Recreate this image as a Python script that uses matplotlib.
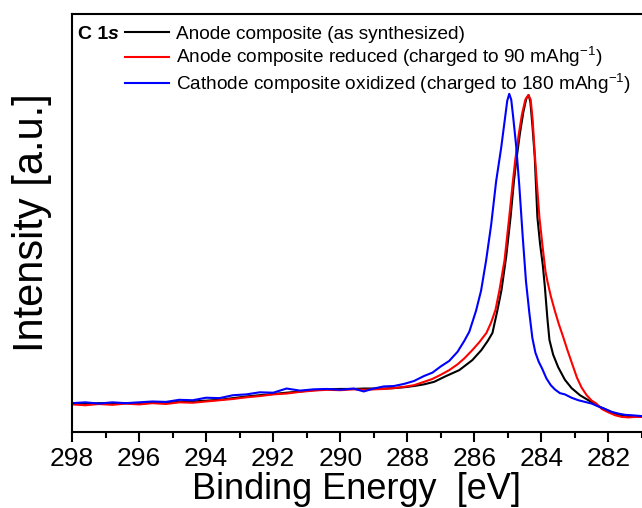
import matplotlib
matplotlib.use('Agg')
import matplotlib.pyplot as plt
from matplotlib.ticker import MultipleLocator

plt.rcParams['font.family'] = ['Liberation Sans', 'DejaVu Sans']
plt.rcParams['mathtext.fontset'] = 'custom'
plt.rcParams['mathtext.rm'] = 'Liberation Sans'
plt.rcParams['mathtext.it'] = 'Liberation Sans:italic'
plt.rcParams['mathtext.bf'] = 'Liberation Sans:bold'

# binding energy (eV) / normalised intensity
e_black = [298.0, 297.6, 297.2, 296.8, 296.4, 296.0, 295.6, 295.2, 294.8, 294.4, 294.0,
           293.6, 293.2, 292.8, 292.4, 292.0, 291.6, 291.2, 290.8, 290.4, 290.0, 289.6,
           289.3, 289.0, 288.7, 288.4, 288.1, 287.8, 287.5, 287.2, 286.84, 286.45, 286.06,
           285.79, 285.6, 285.46, 285.31, 285.19, 285.05, 284.92, 284.82, 284.74, 284.64,
           284.54, 284.45, 284.38, 284.33, 284.27, 284.2, 284.12, 284.04, 283.96, 283.9,
           283.82, 283.76, 283.65, 283.5, 283.3, 283.1, 282.85, 282.6, 282.3, 282.06,
           281.8, 281.6, 281.3, 281.0]
i_black = [0.068, 0.067, 0.069, 0.068, 0.069, 0.068, 0.070, 0.070, 0.072, 0.073, 0.075,
           0.077, 0.081, 0.085, 0.088, 0.091, 0.094, 0.097, 0.100, 0.102, 0.103, 0.103,
           0.104, 0.104, 0.104, 0.105, 0.107, 0.110, 0.114, 0.120, 0.134, 0.148, 0.172,
           0.196, 0.218, 0.237, 0.292, 0.340, 0.420, 0.514, 0.600, 0.655, 0.715,
           0.765, 0.798, 0.806, 0.790, 0.735, 0.660, 0.514, 0.450, 0.400, 0.350,
           0.270, 0.220, 0.185, 0.155, 0.125, 0.105, 0.088, 0.076, 0.062, 0.053,
           0.044, 0.040, 0.037, 0.036]

e_red = [298.0, 297.6, 297.2, 296.8, 296.4, 296.0, 295.6, 295.2, 294.8, 294.4, 294.0,
         293.6, 293.2, 292.8, 292.4, 292.0, 291.6, 291.2, 290.8, 290.4, 290.0, 289.6,
         289.3, 289.0, 288.7, 288.4, 288.1, 287.8, 287.5, 287.25, 287.0, 286.75, 286.5,
         286.3, 286.06, 285.85, 285.64, 285.5, 285.37, 285.25, 285.1, 284.96, 284.85,
         284.78, 284.68, 284.58, 284.48, 284.39, 284.32, 284.26, 284.21, 284.14, 284.06,
         283.96, 283.88, 283.82, 283.72, 283.6, 283.48, 283.37, 283.22, 283.07, 282.94,
         282.8, 282.65, 282.5, 282.36, 282.2, 282.0, 281.8, 281.6, 281.4, 281.2, 281.0]
i_red = [0.066, 0.064, 0.067, 0.065, 0.068, 0.066, 0.069, 0.067, 0.071, 0.070, 0.073,
         0.076, 0.079, 0.083, 0.086, 0.090, 0.092, 0.096, 0.099, 0.101, 0.100, 0.102,
         0.101, 0.102, 0.103, 0.105, 0.108, 0.112, 0.120, 0.127, 0.137, 0.148, 0.162,
         0.176, 0.196, 0.215, 0.237, 0.262, 0.292, 0.340, 0.411, 0.514, 0.600,
         0.651, 0.710, 0.760, 0.795, 0.806, 0.795, 0.745, 0.680, 0.600, 0.514,
         0.440, 0.385, 0.360, 0.325, 0.290, 0.258, 0.232, 0.195, 0.160, 0.130,
         0.106, 0.088, 0.075, 0.068, 0.055, 0.047, 0.040, 0.036, 0.035, 0.036, 0.036]

e_blue = [298.0, 297.6, 297.2, 296.8, 296.4, 296.0, 295.6, 295.2, 294.8, 294.4, 294.0,
          293.6, 293.2, 292.8, 292.4, 292.0, 291.6, 291.2, 290.8, 290.4, 290.0, 289.6,
          289.3, 289.0, 288.7, 288.4, 288.1, 287.8, 287.5, 287.25, 287.0, 286.75, 286.5,
          286.3, 286.15, 285.95, 285.8, 285.65, 285.5, 285.35, 285.2, 285.1, 285.02,
          284.96, 284.9, 284.84, 284.75, 284.66, 284.56, 284.46, 284.36, 284.27, 284.18,
          284.08, 283.98, 283.85, 283.72, 283.6, 283.45, 283.3, 283.1, 282.9, 282.7,
          282.5, 282.3, 282.1, 281.9, 281.7, 281.5, 281.3, 281.0]
i_blue = [0.069, 0.071, 0.068, 0.071, 0.069, 0.071, 0.073, 0.072, 0.077, 0.076, 0.082,
          0.081, 0.088, 0.090, 0.095, 0.094, 0.104, 0.099, 0.102, 0.103, 0.101, 0.104,
          0.097, 0.104, 0.109, 0.110, 0.115, 0.122, 0.134, 0.142, 0.157, 0.170, 0.192,
          0.218, 0.240, 0.290, 0.338, 0.410, 0.495, 0.600, 0.680, 0.742, 0.792,
          0.809, 0.795, 0.752, 0.682, 0.590, 0.470, 0.360, 0.285, 0.225, 0.190,
          0.168, 0.152, 0.128, 0.112, 0.102, 0.093, 0.090, 0.082, 0.076, 0.072,
          0.068, 0.061, 0.055, 0.048, 0.044, 0.041, 0.040, 0.038]

labels = ['Anode composite (as synthesized)',
          'Anode composite reduced (charged to 90 mAhg$^{-1}$)',
          'Cathode composite oxidized (charged to 180 mAhg$^{-1}$)']
colors = ['black', 'red', 'blue']

fig = plt.figure(figsize=(6.42, 5.08), dpi=100)
ax = fig.add_axes([72 / 642, 76 / 508, 570 / 642, 418 / 508])

for e, i, lab, c in zip([e_black, e_red, e_blue], [i_black, i_red, i_blue], labels, colors):
    ax.plot(e, i, color=c, lw=1.5, label=lab)

ax.set_xlim(298, 281)
ax.set_ylim(0, 1)
ax.xaxis.set_major_locator(MultipleLocator(2))
ax.xaxis.set_minor_locator(MultipleLocator(1))
ax.tick_params(axis='x', which='major', direction='out', length=7, width=1.5, labelsize=19)
ax.tick_params(axis='x', which='minor', direction='out', length=4, width=1.5)
ax.set_yticks([])
for s in ax.spines.values():
    s.set_linewidth(1.5)
ax.spines['right'].set_visible(False)

ax.set_xlabel('Binding Energy  [eV]', fontsize=26)
ax.xaxis.set_label_coords(0.5, -0.095)
ax.set_ylabel('Intensity [a.u.]', fontsize=30)
ax.yaxis.set_label_coords(-0.035, 0.5)

leg = ax.legend(loc='upper left', bbox_to_anchor=(0.08, 0.99), borderaxespad=0,
                frameon=False, fontsize=13.7, handlelength=2.3, handletextpad=0.36,
                labelspacing=0.12)
t = ax.text(0.01, 0.941, 'C 1', transform=ax.transAxes, fontsize=14, fontweight='bold',
            va='baseline')
ax.annotate('s', xy=(1, 0), xycoords=t, fontsize=14, fontweight='bold', style='italic',
            va='bottom')

fig.savefig('out.png', dpi=100)
